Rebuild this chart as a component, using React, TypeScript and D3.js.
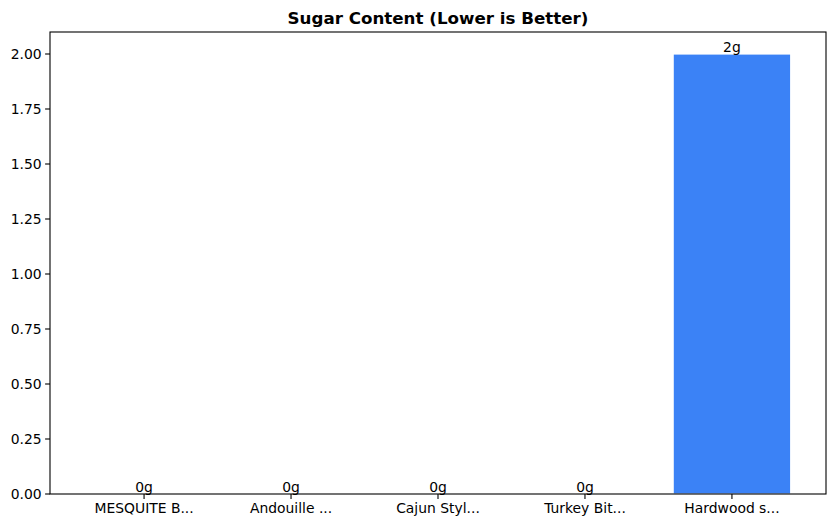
import React from "react"
import * as d3 from "d3"

const categories = ["MESQUITE B...", "Andouille ...", "Cajun Styl...", "Turkey Bit...", "Hardwood s..."]
const sugar = [0, 0, 0, 0, 2]
const yTicks = [0, 0.25, 0.5, 0.75, 1.0, 1.25, 1.5, 1.75, 2.0]

const width = 835
const height = 528
const margin = {top: 32, right: 9, bottom: 34, left: 50}
const barWidth = 0.8
const font = "DejaVu Sans, sans-serif"

const App = () => {
    const n = categories.length
    const span = (n - 1) + barWidth
    const pad = span * 0.05
    const x = d3.scaleLinear()
        .domain([-barWidth / 2 - pad, n - 1 + barWidth / 2 + pad])
        .range([margin.left, width - margin.right])
    const yMax = (d3.max(sugar) as number) * 1.05
    const y = d3.scaleLinear()
        .domain([0, yMax])
        .range([height - margin.bottom, margin.top])

    const x0 = margin.left
    const x1 = width - margin.right
    const yTop = margin.top
    const yBot = height - margin.bottom

    return (
        <svg width={width} height={height} style={{position: "absolute", left: 0, top: 0}}
             fontFamily={font}>
            <rect x={0} y={0} width={width} height={height} fill="white"/>
            {sugar.map((v, i) => (
                <rect key={i}
                      x={x(i - barWidth / 2)}
                      y={y(v)}
                      width={x(barWidth) - x(0)}
                      height={y(0) - y(v)}
                      fill="#3b82f6"
                      stroke="white"
                      strokeWidth={1.2}/>
            ))}
            {sugar.map((v, i) => (
                <text key={"l" + i} x={x(i)} y={y(v) - 2.5} textAnchor="middle"
                      fontSize={13.9} fill="black">{`${v}g`}</text>
            ))}
            <rect x={x0} y={yTop} width={x1 - x0} height={yBot - yTop}
                  fill="none" stroke="black" strokeWidth={1.1}/>
            {yTicks.map(t => (
                <g key={t} transform={`translate(0,${y(t)})`}>
                    <line x1={x0 - 4.9} x2={x0} stroke="black" strokeWidth={1.1}/>
                    <text x={x0 - 8.3} dy="0.35em" textAnchor="end" fontSize={13.9}
                          fill="black">{t.toFixed(2)}</text>
                </g>
            ))}
            {categories.map((c, i) => (
                <g key={c} transform={`translate(${x(i)},0)`}>
                    <line y1={yBot} y2={yBot + 4.9} stroke="black" strokeWidth={1.1}/>
                    <text y={yBot + 8.3} dy="0.76em" textAnchor="middle" fontSize={13.9}
                          fill="black">{c}</text>
                </g>
            ))}
            <text x={(x0 + x1) / 2} y={yTop - 8.3} textAnchor="middle" fontSize={16.7}
                  fontWeight="bold" fill="black">Sugar Content (Lower is Better)</text>
        </svg>
    )
}

export default App
